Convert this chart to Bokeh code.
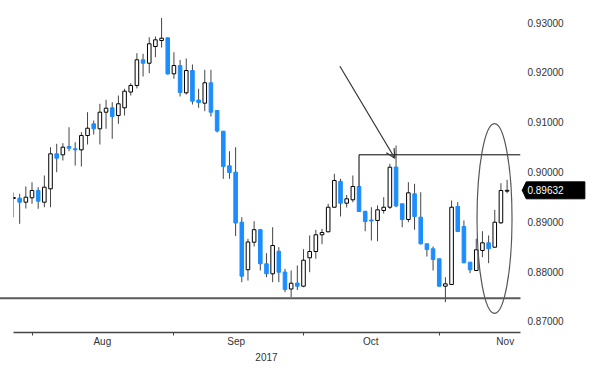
from bokeh.plotting import figure
from bokeh.models import (Range1d, FixedTicker, LinearAxis, Arrow, OpenHead,
                          ColumnDataSource, PrintfTickFormatter)
from bokeh.core.properties import value
from bokeh.embed import file_html
from bokeh.resources import INLINE
import pandas as pd

# ---- data (EUR/GBP daily, 27 Jul - 16 Nov 2017) ----
dates = pd.bdate_range("2017-07-27", "2017-11-16")
opens = [0.89468, 0.89474, 0.89394, 0.89482, 0.89629, 0.89394, 0.89663, 0.90365, 0.90345, 0.90512,
         0.90465, 0.90445, 0.90732, 0.90967, 0.90867, 0.91200, 0.91288, 0.91134, 0.91288, 0.91605,
         0.91736, 0.92252, 0.92183, 0.92518, 0.92639, 0.92693, 0.91971, 0.92137, 0.91589, 0.92037,
         0.91445, 0.91381, 0.91790, 0.91234, 0.90819, 0.90124, 0.89996, 0.88992, 0.88039, 0.88591,
         0.88842, 0.88158, 0.87957, 0.88410, 0.87993, 0.87652, 0.87772, 0.87708, 0.88278, 0.88404,
         0.88740, 0.88800, 0.89293, 0.89813, 0.89374, 0.89442, 0.89709, 0.89213, 0.89037, 0.89027,
         0.89227, 0.89293, 0.90100, 0.89362, 0.89047, 0.89562, 0.89093, 0.88559, 0.88459, 0.88258,
         0.87708, 0.87742, 0.89308, 0.88906, 0.88190, 0.88023, 0.88425, 0.88579, 0.88491, 0.88980,
         0.89615]
highs = [0.89588, 0.89562, 0.89709, 0.89795, 0.89695, 0.89930, 0.90498, 0.90566, 0.90578, 0.90899,
         0.90598, 0.90799, 0.91200, 0.91033, 0.91369, 0.91449, 0.91401, 0.91535, 0.91670, 0.91782,
         0.92384, 0.92372, 0.92705, 0.92719, 0.93090, 0.92699, 0.92404, 0.92248, 0.92278, 0.92157,
         0.91670, 0.92051, 0.92051, 0.91234, 0.90819, 0.90417, 0.90498, 0.89093, 0.88659, 0.89013,
         0.88860, 0.88370, 0.88892, 0.88491, 0.88057, 0.88023, 0.88124, 0.88451, 0.88726, 0.88840,
         0.88860, 0.89362, 0.89964, 0.89863, 0.89538, 0.89930, 0.89709, 0.89213, 0.89293, 0.89328,
         0.89494, 0.90164, 0.90532, 0.89362, 0.89795, 0.89763, 0.89594, 0.88559, 0.88505, 0.88258,
         0.87889, 0.89428, 0.89394, 0.89027, 0.88190, 0.88659, 0.88812, 0.88726, 0.89241, 0.89775,
         0.89843]
lows = [0.89093, 0.88960, 0.89267, 0.89362, 0.89261, 0.89293, 0.89293, 0.89996, 0.90231, 0.90417,
        0.90130, 0.90110, 0.90552, 0.90752, 0.90552, 0.90867, 0.90666, 0.90967, 0.91134, 0.91535,
        0.91676, 0.91916, 0.91983, 0.92304, 0.92498, 0.91957, 0.91870, 0.91515, 0.91555, 0.91354,
        0.91288, 0.91220, 0.91114, 0.90793, 0.89863, 0.89863, 0.88715, 0.87788, 0.87822, 0.88505,
        0.88023, 0.87889, 0.87788, 0.87788, 0.87588, 0.87491, 0.87632, 0.87688, 0.87989, 0.88258,
        0.88551, 0.88792, 0.89287, 0.89107, 0.89287, 0.89394, 0.89197, 0.88812, 0.88625, 0.88611,
        0.89167, 0.89261, 0.89293, 0.88892, 0.88992, 0.88840, 0.88545, 0.88304, 0.88023, 0.87708,
        0.87387, 0.87742, 0.88792, 0.88170, 0.87969, 0.88023, 0.88290, 0.88170, 0.88479, 0.88960,
        0.89574]
closes = [0.89488, 0.89394, 0.89494, 0.89629, 0.89414, 0.89695, 0.90365, 0.90277, 0.90498, 0.90477,
          0.90445, 0.90732, 0.90879, 0.90867, 0.91200, 0.91280, 0.91114, 0.91369, 0.91621, 0.91736,
          0.92252, 0.92183, 0.92573, 0.92653, 0.92685, 0.91967, 0.92137, 0.91595, 0.92037, 0.91421,
          0.91395, 0.91790, 0.91200, 0.90823, 0.90110, 0.89990, 0.88976, 0.87909, 0.88595, 0.88842,
          0.88158, 0.87957, 0.88525, 0.87989, 0.87642, 0.87768, 0.87708, 0.88230, 0.88404, 0.88740,
          0.88786, 0.89293, 0.89829, 0.89374, 0.89462, 0.89709, 0.89207, 0.89006, 0.89017, 0.89241,
          0.89293, 0.90096, 0.89318, 0.89047, 0.89582, 0.89107, 0.88559, 0.88445, 0.88244, 0.87708,
          0.87756, 0.89293, 0.88806, 0.88178, 0.88037, 0.88439, 0.88579, 0.88459, 0.88992, 0.89629,
          0.89632]

month_labels = ["Aug", "Sep", "Oct", "Nov"]
month_starts = [3, 26, 47, 69]
month_label_pos = [14.4, 36.1, 57.9, 79.7]
year_label = "2017"
year_label_pos = 41.0
y_ticks = [0.87, 0.88, 0.89, 0.90, 0.91, 0.92, 0.93]
last_price = 0.89632
support_level = 0.87467
resistance_start = (56, 0.89709)
resistance_level = 0.90345
arrow_from = (52.9, 0.92123)
arrow_to = (61.8, 0.90277)
ellipse_center = (77.96, 0.89067)
ellipse_size = (5.67, 0.03813)

FONT = "Liberation Sans"
BLUE = "#1c8dff"
X_END = 82.17

x = list(range(len(opens)))
up = [i for i in x if closes[i] >= opens[i]]
dn = [i for i in x if closes[i] < opens[i]]

src = ColumnDataSource(dict(x=x, h=highs, l=lows))
src_up = ColumnDataSource(dict(x=up, top=[closes[i] for i in up], bot=[opens[i] for i in up]))
src_dn = ColumnDataSource(dict(x=dn, top=[opens[i] for i in dn], bot=[closes[i] for i in dn]))

p = figure(width=600, height=375, x_range=Range1d(0, X_END), y_range=Range1d(0.86779, 0.93241),
           y_axis_location="right", output_backend="svg", toolbar_location=None,
           min_border_left=13, min_border_right=80, min_border_top=10, min_border_bottom=43)
p.outline_line_color = None
p.xgrid.grid_line_color = None
p.ygrid.grid_line_color = None
p.background_fill_color = "white"

p.segment(x0="x", y0="h", x1="x", y1="l", source=src, line_color="#444444", line_width=1)
p.vbar(x="x", top="top", bottom="bot", width=0.58, source=src_up,
       fill_color="white", line_color="black", line_width=1)
p.vbar(x="x", top="top", bottom="bot", width=0.58, source=src_dn,
       fill_color=BLUE, line_color=BLUE, line_width=1)

# annotations
p.line([-2.2, X_END], [support_level, support_level], line_color="#5a5a5a", line_width=2,
       level="overlay")
p.line([resistance_start[0], resistance_start[0], X_END],
       [resistance_start[1], resistance_level, resistance_level], line_color="black", line_width=1)
p.add_layout(Arrow(end=OpenHead(size=9, line_color="#333333", line_width=1.2),
                   x_start=arrow_from[0], y_start=arrow_from[1], x_end=arrow_to[0], y_end=arrow_to[1],
                   line_color="#333333", line_width=1.2))
p.ellipse(x=ellipse_center[0], y=ellipse_center[1], width=ellipse_size[0], height=ellipse_size[1],
          fill_color=None, line_color="#555555", line_width=1.2)

# last price marker (drawn outside the frame, on the axis side)
p.patch([82.45, 83.1, 92.6, 92.6, 83.1],
        [last_price, last_price + 0.0017, last_price + 0.0017, last_price - 0.0017, last_price - 0.0017],
        fill_color="black", line_color="black", level="overlay")
p.text(x=[83.3], y=[last_price], text=[f"{last_price:.5f}"], text_color="white",
       text_font=value(FONT), text_font_size=value("10px"), text_baseline="middle",
       text_align="left", level="overlay")

# y axis (right)
ya = p.yaxis[0]
ya.ticker = FixedTicker(ticks=y_ticks)
ya.formatter = PrintfTickFormatter(format="%.5f")
ya.axis_line_color = None
ya.major_tick_line_color = None
ya.minor_tick_line_color = None
ya.major_tick_out = 0
ya.major_label_standoff = 7
ya.major_label_text_font = FONT
ya.major_label_text_font_size = "10px"
ya.major_label_text_color = "#333333"

# x axis: month labels at mid-month, ticks at month starts
xa = p.xaxis[0]
xa.ticker = FixedTicker(ticks=month_label_pos, minor_ticks=month_starts)
xa.major_label_overrides = {k: v for k, v in zip(month_label_pos, month_labels)}
xa.axis_line_color = "#444444"
xa.axis_line_width = 1.5
xa.major_tick_line_color = None
xa.major_tick_out = 0
xa.minor_tick_line_color = "#444444"
xa.minor_tick_out = 3
xa.minor_tick_in = 0
xa.major_label_standoff = 0
xa.major_label_text_font = FONT
xa.major_label_text_font_size = "10px"
xa.major_label_text_color = "#333333"

xa2 = LinearAxis(ticker=FixedTicker(ticks=[year_label_pos]),
                 major_label_overrides={year_label_pos: year_label})
xa2.axis_line_color = None
xa2.major_tick_line_color = None
xa2.minor_tick_line_color = None
xa2.major_tick_out = 0
xa2.major_label_standoff = 3
xa2.major_label_text_font = FONT
xa2.major_label_text_font_size = "10px"
xa2.major_label_text_color = "#333333"
p.add_layout(xa2, "below")

open("out.html", "w").write(file_html(p, INLINE))
